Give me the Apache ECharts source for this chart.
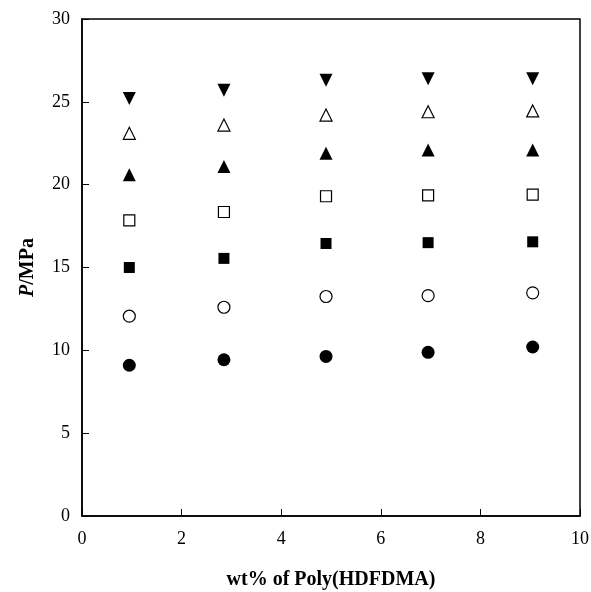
<!DOCTYPE html>
<html>
<head>
<meta charset="utf-8">
<script src="https://cdn.jsdelivr.net/npm/echarts@6/dist/echarts.min.js"></script>
<style>
  html, body { margin: 0; padding: 0; background: #fff; }
  #chart { width: 591px; height: 592px; }
</style>
</head>
<body>
<div id="chart"></div>
<script>
  // wt% of Poly(HDFDMA)
  var wtPercent = [0.95, 2.85, 4.9, 6.95, 9.05];

  // pressure (MPa), one list per marker type, top to bottom
  var triDownFilled = [25.2, 25.7, 26.3, 26.4, 26.4];
  var triUpOpen = [23.1, 23.6, 24.2, 24.4, 24.45];
  var triUpFilled = [20.6, 21.1, 21.9, 22.1, 22.1];
  var squareOpen = [17.85, 18.35, 19.3, 19.35, 19.4];
  var squareFilled = [15.0, 15.55, 16.45, 16.5, 16.55];
  var circleOpen = [12.06, 12.6, 13.25, 13.3, 13.47];
  var circleFilled = [9.1, 9.43, 9.63, 9.88, 10.2];

  var xTicks = [0, 2, 4, 6, 8, 10];
  var yTicks = [0, 5, 10, 15, 20, 25, 30];

  var serif = '"Liberation Serif", "DejaVu Serif", serif';

  function pts(ys) {
    return ys.map(function (y, i) { return [wtPercent[i], y]; });
  }

  function makeSeries(name, ys, symbol, size, filled, rotate) {
    return {
      name: name,
      type: 'scatter',
      data: pts(ys),
      symbol: symbol,
      symbolSize: size,
      symbolRotate: rotate || 0,
      itemStyle: {
        opacity: 1,
        color: filled ? '#000' : '#fff',
        borderColor: '#000',
        borderWidth: filled ? 0 : 1.2
      }
    };
  }

  var chart = echarts.init(document.getElementById('chart'));
  var option = {
    animation: false,
    backgroundColor: '#fff',
    grid: {
      left: 82,
      right: 11,
      top: 19,
      bottom: 76,
      containLabel: false,
      outerBoundsMode: 'none',
      show: true,
      borderColor: '#000',
      borderWidth: 1.5
    },
    xAxis: {
      type: 'value',
      min: 0,
      max: 10,
      interval: 2,
      name: 'wt% of Poly(HDFDMA)',
      nameLocation: 'middle',
      nameGap: 54,
      nameTextStyle: { fontFamily: serif, fontWeight: 'bold', fontSize: 20, color: '#000' },
      axisLine: { show: true, lineStyle: { color: '#000', width: 1.5 } },
      axisTick: { show: true, inside: true, length: 7, lineStyle: { color: '#000' } },
      axisLabel: {
        fontFamily: serif, fontSize: 18, color: '#000', margin: 14,
        formatter: function (v) { return xTicks.indexOf(v) >= 0 ? String(v) : ''; }
      },
      splitLine: { show: false }
    },
    yAxis: {
      type: 'value',
      min: 0,
      max: 30,
      interval: 5,
      name: '{i|P}/MPa',
      nameLocation: 'middle',
      nameRotate: 90,
      nameGap: 44,
      nameTextStyle: {
        fontFamily: serif, fontWeight: 'bold', fontSize: 20, color: '#000',
        rich: { i: { fontFamily: serif, fontWeight: 'bold', fontStyle: 'italic', fontSize: 20, color: '#000' } }
      },
      axisLine: { show: true, lineStyle: { color: '#000', width: 1.5 } },
      axisTick: { show: true, inside: true, length: 7, lineStyle: { color: '#000' } },
      axisLabel: {
        fontFamily: serif, fontSize: 18, color: '#000', margin: 12,
        formatter: function (v) { return yTicks.indexOf(v) >= 0 ? String(v) : ''; }
      },
      splitLine: { show: false }
    },
    series: [
      makeSeries('s7', triDownFilled, 'triangle', 13, true, 180),
      makeSeries('s6', triUpOpen, 'triangle', 12, false),
      makeSeries('s5', triUpFilled, 'triangle', 13, true),
      makeSeries('s4', squareOpen, 'rect', 11, false),
      makeSeries('s3', squareFilled, 'rect', 11, true),
      makeSeries('s2', circleOpen, 'circle', 12, false),
      makeSeries('s1', circleFilled, 'circle', 13, true)
    ]
  };
  chart.setOption(option);
</script>
</body>
</html>
